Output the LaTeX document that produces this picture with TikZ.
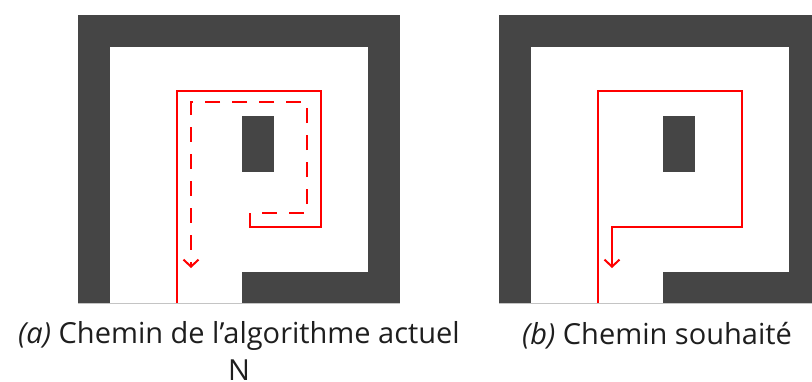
\documentclass[tikz,border=0pt]{standalone}
\usepackage{fontspec}
\setmainfont{Open Sans}
\usepackage{xcolor}
\usetikzlibrary{arrows.meta}
\definecolor{wall}{HTML}{454545}
\definecolor{rim}{HTML}{C4C4C4}
\definecolor{ink}{HTML}{1E1E1E}

\begin{document}
\begin{tikzpicture}[x=1pt, y=-1pt,
  route/.style={red, line width=2pt},
  dashroute/.style={dash pattern=on 15pt off 12pt, dash phase=15pt},
  tip/.style={-{Straight Barb[length=7pt, width=15pt]}},
  caption/.style={ink, font=\fontsize{29}{37}\selectfont, align=center, anchor=base, inner sep=0pt}]
\useasboundingbox (0,0) rectangle (812,381);

% the two mazes
\begin{scope}
\clip (0,0) rectangle (812,381);
\foreach \dx in {0,421}{
  \begin{scope}[xshift=\dx pt]
  \fill[wall] (78,15) rectangle (400,303);
  \fill[white] (110,47) rectangle (368,303);
  \fill[wall] (242,272) rectangle (368,303);
  \fill[wall] (242,116) rectangle (274,172);
  \draw[rim] (78,303) -- (400,303);
  \end{scope}
}
\end{scope}

% (a) current path
\draw[route] (177,303) -- (177,91) -- (321,91) -- (321,227) -- (250,227) -- (250,213);
\draw[route, dashroute, tip] (250,213) -- (307,213) -- (307,102) -- (191,102) -- (191,268);

% (b) wanted path
\draw[route, tip] (598,303) -- (598,91) -- (742,91) -- (742,227) -- (612,227) -- (612,268);

% base is the last line here
\node[caption] (capA) at (239,380) {\textit{(a)} Chemin de l’algorithme actuel\\N};
\node[caption] (capB) at (657,344) {\textit{(b)} Chemin souhaité};
\end{tikzpicture}
\end{document}
